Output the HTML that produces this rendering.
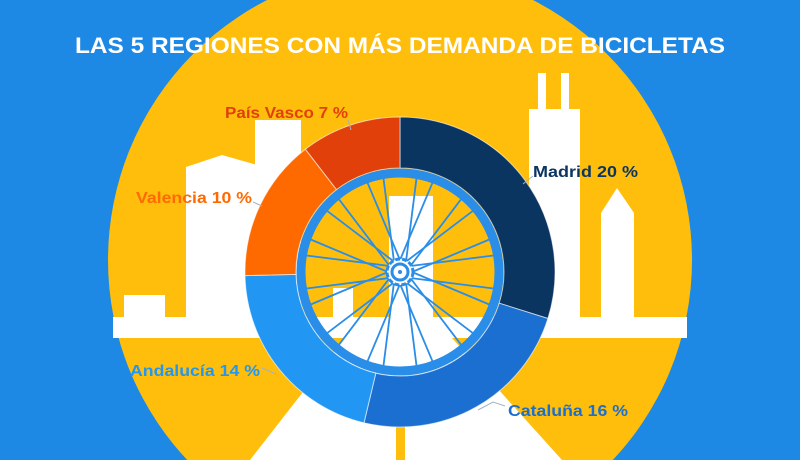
<!DOCTYPE html>
<html><head><meta charset="utf-8"><style>
html,body{margin:0;padding:0;overflow:hidden;}
body{width:800px;height:460px;overflow:hidden;background:#1e88e5;}
svg{display:block;}
text{font-family:"Liberation Sans",sans-serif;font-weight:bold;}
</style></head><body>
<svg width="800" height="460" viewBox="0 0 800 460" xmlns="http://www.w3.org/2000/svg">
<rect width="800" height="460" fill="#1e88e5"/>
<circle cx="400" cy="260" r="292" fill="#ffbe0b"/>
<g fill="#ffffff">
  <rect x="113" y="317" width="574" height="21"/>
  <rect x="124" y="295" width="41" height="25"/>
  <polygon points="186,320 186,167 222,155 257,165 257,320"/>
  <rect x="255" y="120" width="46" height="200"/>
  <rect x="389" y="196" width="44" height="124"/>
  <rect x="333" y="288" width="20" height="32"/>
  <rect x="529" y="109" width="51" height="211"/>
  <rect x="538" y="73" width="8" height="40"/>
  <rect x="561" y="73" width="8" height="40"/>
  <polygon points="601,320 601,213 617,188 634,213 634,320"/>
  <polygon points="345,338 452,338 562,460 250,460"/>
</g>
<rect x="396" y="410" width="9" height="50" fill="#ffbe0b"/>
<g stroke="#ffffff" stroke-width="1" stroke-opacity="0.6">
<path d="M400,117 A155,155 0 0 1 547.9,318.5 L499.2,303.2 A104,104 0 0 0 400,168 Z" fill="#0b3561"/>
<path d="M547.9,318.5 A155,155 0 0 1 364.0,422.8 L375.8,373.2 A104,104 0 0 0 499.2,303.2 Z" fill="#1a6fd0"/>
<path d="M364.0,422.8 A155,155 0 0 1 245.0,275.6 L296.0,274.4 A104,104 0 0 0 375.8,373.2 Z" fill="#2196f3"/>
<path d="M245.0,275.6 A155,155 0 0 1 305.4,149.2 L336.5,189.6 A104,104 0 0 0 296.0,274.4 Z" fill="#ff6a00"/>
<path d="M305.4,149.2 A155,155 0 0 1 400,117 L400,168 A104,104 0 0 0 336.5,189.6 Z" fill="#e2400a"/>
</g>
<circle cx="400" cy="272" r="99" fill="none" stroke="#2a8de8" stroke-width="9"/>
<defs>
<g id="sp"><line x1="412" y1="272" x2="489.3" y2="304.5" stroke="#2a8de8" stroke-width="1.8"/><line x1="412" y1="272" x2="489.3" y2="239.5" stroke="#2a8de8" stroke-width="1.8"/></g>
</defs>
<use href="#sp"/><use href="#sp" transform="rotate(30 400 272)"/><use href="#sp" transform="rotate(60 400 272)"/><use href="#sp" transform="rotate(90 400 272)"/><use href="#sp" transform="rotate(120 400 272)"/><use href="#sp" transform="rotate(150 400 272)"/><use href="#sp" transform="rotate(180 400 272)"/><use href="#sp" transform="rotate(210 400 272)"/><use href="#sp" transform="rotate(240 400 272)"/><use href="#sp" transform="rotate(270 400 272)"/><use href="#sp" transform="rotate(300 400 272)"/><use href="#sp" transform="rotate(330 400 272)"/>
<circle cx="400" cy="272" r="13" fill="#ffffff" stroke="#2a8de8" stroke-width="3" stroke-dasharray="5 2"/>
<circle cx="400" cy="272" r="8" fill="#ffffff" stroke="#2a8de8" stroke-width="3"/>
<circle cx="400" cy="272" r="2" fill="#2a8de8"/>
<g stroke="#9fb3c8" stroke-width="1" fill="none">
<line x1="348" y1="120" x2="351" y2="130"/>
<line x1="533" y1="176" x2="523" y2="184"/>
<line x1="253" y1="202" x2="262" y2="206"/>
<line x1="262" y1="368" x2="276" y2="374"/>
<polyline points="478,410 493,402 505,406"/>
</g>
<text x="400" y="53" font-size="22" fill="#ffffff" text-anchor="middle" textLength="650" lengthAdjust="spacingAndGlyphs">LAS 5 REGIONES CON MÁS DEMANDA DE BICICLETAS</text>
<text x="225" y="118" font-size="16" fill="#e2400a" textLength="123" lengthAdjust="spacingAndGlyphs">País Vasco 7 %</text>
<text x="136" y="203" font-size="16" fill="#ff6a00" textLength="116" lengthAdjust="spacingAndGlyphs">Valencia 10 %</text>
<text x="533" y="177" font-size="16" fill="#0b3561" textLength="105" lengthAdjust="spacingAndGlyphs">Madrid 20 %</text>
<text x="130" y="376" font-size="16" fill="#2196f3" textLength="130" lengthAdjust="spacingAndGlyphs">Andalucía 14 %</text>
<text x="508" y="416" font-size="16" fill="#1a6fd0" textLength="120" lengthAdjust="spacingAndGlyphs">Cataluña 16 %</text>
</svg>
</body></html>
